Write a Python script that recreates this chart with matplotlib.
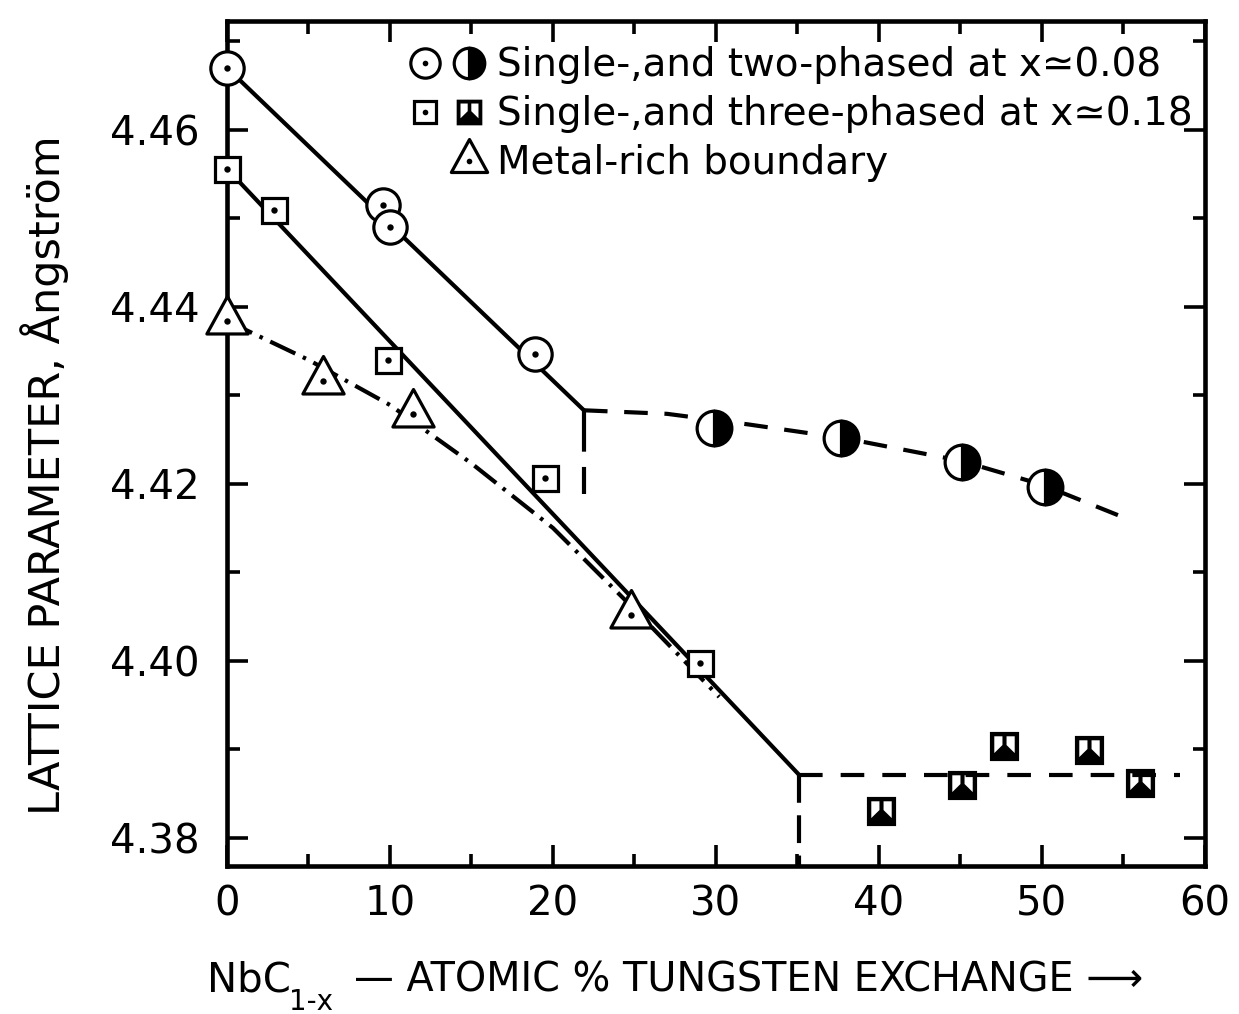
import matplotlib
matplotlib.use("Agg")
import matplotlib.pyplot as plt
from matplotlib.path import Path
from matplotlib.lines import Line2D
from matplotlib.legend_handler import HandlerTuple
from matplotlib.ticker import MultipleLocator, FormatStrFormatter

plt.rcParams["font.family"] = ["DejaVu Sans"]
plt.rcParams["lines.scale_dashes"] = False

# ---- measured lattice parameters (Angstrom) vs atomic % W exchange ----
single_x08_w = [0.0, 9.6, 10.0, 18.9]
single_x08_a = [4.4670, 4.4515, 4.4490, 4.4347]

two_phase_w = [29.9, 37.7, 45.1, 50.2]
two_phase_a = [4.4263, 4.4252, 4.4225, 4.4196]

single_x18_w = [0.0, 2.9, 9.9, 19.5, 29.0]
single_x18_a = [4.4556, 4.4509, 4.4340, 4.4206, 4.3997]

three_phase_w = [40.1, 45.1, 47.7, 52.9, 56.0]
three_phase_a = [4.3830, 4.3859, 4.3904, 4.3899, 4.3862]

metal_rich_w = [0.0, 5.9, 11.4, 24.8]
metal_rich_a = [4.4384, 4.4316, 4.4279, 4.4052]

# ---- drawn guide curves ----
fit_x08_w = [0.0, 21.9]
fit_x08_a = [4.4670, 4.4283]
limit_x08_a = [4.4283, 4.4188]          # vertical phase-limit drop at 21.9 %
two_phase_fit_w = [21.9, 27.0, 32.0, 38.0, 45.0, 50.0, 55.0]
two_phase_fit_a = [4.4283, 4.4279, 4.4267, 4.4251, 4.4226, 4.4199, 4.4162]

fit_x18_w = [0.0, 35.1]
fit_x18_a = [4.4556, 4.3871]
three_phase_fit_w = [35.1, 58.5]
three_phase_fit_a = [4.3871, 4.3871]

boundary_w = [0.0, 5.0, 10.0, 15.0, 20.0, 25.0, 30.2]
boundary_a = [4.4384, 4.4340, 4.4289, 4.4223, 4.4150, 4.4058, 4.3959]

x_ticks = [0, 10, 20, 30, 40, 50, 60]
y_ticks = [4.38, 4.40, 4.42, 4.44, 4.46]

legend_labels = [
    "Single-,and two-phased at x\u22430.08",
    "Single-,and three-phased at x\u22430.18",
    "Metal-rich boundary",
]

# ---- marker shapes ----
# square with a black lower part and two white windows on top
_sq = [(-1, -1), (1, -1), (1, 1), (-1, 1), (-1, -1)]
_wl = [(-0.70, 0.70), (-0.14, 0.70), (-0.14, 0.10), (-0.70, -0.45), (-0.70, 0.70)]
_wr = [(0.70, 0.70), (0.70, -0.45), (0.14, 0.10), (0.14, 0.70), (0.70, 0.70)]
_codes = []
_verts = []
for poly in (_sq, _wl, _wr):
    _verts += poly
    _codes += [Path.MOVETO] + [Path.LINETO] * (len(poly) - 2) + [Path.CLOSEPOLY]
three_phase_marker = Path(_verts, _codes)

# triangle centred on its centroid
tri_marker = Path([(0, 0.667), (-0.55, -0.333), (0.55, -0.333), (0, 0.667)],
                  [Path.MOVETO, Path.LINETO, Path.LINETO, Path.CLOSEPOLY])

LW = 3.0
MEW = 2.3
ink = "black"

fig = plt.figure(figsize=(12.39, 10.14), dpi=100)
ax = fig.add_axes([0.1832, 0.1460, 0.7893, 0.8333])
ax.set_xlim(0, 60)
ax.set_ylim(4.3768, 4.4723)

# guide lines
ax.plot(fit_x08_w, fit_x08_a, color=ink, lw=LW, zorder=2, solid_capstyle="butt")
ax.plot([fit_x08_w[-1]] * 2, limit_x08_a, color=ink, lw=LW, dashes=[30, 11], zorder=2)
ax.plot(two_phase_fit_w, two_phase_fit_a, color=ink, lw=LW, dashes=[17, 12], zorder=2)

ax.plot(fit_x18_w, fit_x18_a, color=ink, lw=LW, zorder=2, solid_capstyle="butt")
ax.plot([fit_x18_w[-1]] * 2, [fit_x18_a[-1], ax.get_ylim()[0]], color=ink, lw=LW,
        dashes=[20, 9], zorder=2)
ax.plot(three_phase_fit_w, three_phase_fit_a, color=ink, lw=LW, dashes=[17, 13], zorder=2)

ax.plot(boundary_w, boundary_a, color=ink, lw=LW, dashes=[20, 6, 2.5, 6], zorder=2)

# data points
circ_kw = dict(ls="none", marker="o", ms=24, mfc="white", mec=ink, mew=MEW,
               zorder=3, clip_on=False)
dot_kw = dict(ls="none", marker="o", ms=4.6, mfc=ink, mew=0, zorder=4, clip_on=False)

for w, a in zip(single_x08_w, single_x08_a):
    ax.plot([w], [a], **circ_kw)
    ax.plot([w], [a], **dot_kw)

half_circ_kw = dict(ls="none", marker="o", ms=25, fillstyle="right", mfc=ink,
                    mfcalt="white", mec=ink, mew=MEW, zorder=3, clip_on=False)
ax.plot(two_phase_w, two_phase_a, **half_circ_kw)

sq_kw = dict(ls="none", marker="s", ms=18, mfc="white", mec=ink, mew=MEW,
             zorder=3, clip_on=False)
ax.plot(single_x18_w, single_x18_a, **sq_kw)
ax.plot(single_x18_w, single_x18_a, **dot_kw)

hs_kw = dict(ls="none", marker=three_phase_marker, ms=21, mfc=ink, mec="none", mew=0,
             zorder=3, clip_on=False)
ax.plot(three_phase_w, three_phase_a, **hs_kw)

tri_kw = dict(ls="none", marker=tri_marker, ms=36, mfc="white", mec=ink, mew=MEW,
              zorder=3, clip_on=False)
ax.plot(metal_rich_w, metal_rich_a, **tri_kw)
ax.plot(metal_rich_w, metal_rich_a, **dot_kw)

# axes styling
ax.xaxis.set_major_locator(MultipleLocator(10))
ax.xaxis.set_minor_locator(MultipleLocator(5))
ax.yaxis.set_major_locator(MultipleLocator(0.02))
ax.yaxis.set_minor_locator(MultipleLocator(0.01))
ax.yaxis.set_major_formatter(FormatStrFormatter("%.2f"))
ax.set_xticks(x_ticks)
ax.set_yticks(y_ticks)
ax.tick_params(which="both", direction="in", top=True, right=True, width=2.6,
               labelsize=29, color=ink)
ax.tick_params(which="major", length=15)
ax.tick_params(which="minor", length=9)
ax.tick_params(axis="x", pad=13)
ax.tick_params(axis="y", pad=20)
for s in ax.spines.values():
    s.set_linewidth(3.3)

# key: open and filled symbol side by side on each row
h_c = Line2D([], [], **circ_kw)
h_dot = Line2D([], [], **dot_kw)
h_ch = Line2D([], [], **half_circ_kw)
h_s = Line2D([], [], **sq_kw)
h_sh = Line2D([], [], **hs_kw)
h_t = Line2D([], [], **tri_kw)
h_none = Line2D([], [], ls="none")
row1 = ((h_c, h_dot), h_ch)
row2 = ((h_s, h_dot), h_sh)
row3 = (h_none, (h_t, h_dot))
pair = HandlerTuple(ndivide=None, pad=0)
leg = ax.legend(
    [row1, row2, row3],
    legend_labels,
    handler_map={row1: pair, row2: pair, row3: pair},
    loc="upper left", bbox_to_anchor=(0.1795, 0.970), frameon=False,
    fontsize=28, handlelength=2.28, handletextpad=0.15, labelspacing=0.28,
    borderpad=0, borderaxespad=0, markerscale=0.88,
)

# axis titles
W, H = fig.get_size_inches() * fig.dpi
fig.text(45 / W, 1 - 475 / H, "LATTICE PARAMETER, \u00c5ngstr\u00f6m",
         rotation=90, ha="center", va="center", fontsize=31)
fig.text(207 / W, 1 - 992 / H, "NbC", ha="left", va="baseline", fontsize=29)
fig.text(289 / W, 1 - 1010 / H, "1-x", ha="left", va="baseline", fontsize=20)
fig.text(354 / W, 1 - 992 / H, "\u2014 ATOMIC % TUNGSTEN EXCHANGE \u27f6",
         ha="left", va="baseline", fontsize=28.6)

fig.savefig("out.png", dpi=100, facecolor="white")
